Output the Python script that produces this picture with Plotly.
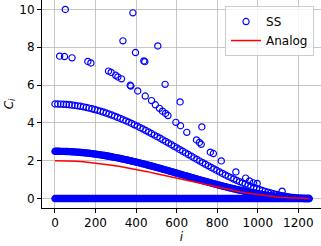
import plotly.graph_objects as go

# ---- data ----
# index positions sampled along the dense bands
i_dense = [0,7,14,21,28,35,42,49,56,63,70,77,84,91,98,105,112,119,126,133,140,147,154,161,168,175,182,189,196,203,
           210,217,224,231,238,245,252,259,266,273,280,287,294,301,308,315,322,329,336,343,350,357,364,371,378,385,392,399,406,413,
           420,427,434,441,448,455,462,469,476,483,490,497,504,511,518,525,532,539,546,553,560,567,574,581,588,595,602,609,616,623,
           630,637,644,651,658,665,672,679,686,693,700,707,714,721,728,735,742,749,756,763,770,777,784,791,798,805,812,819,826,833,
           840,847,854,861,868,875,882,889,896,903,910,917,924,931,938,945,952,959,966,973,980,987,994,1001,1008,1015,1022,1029,1036,1043,
           1050,1057,1064,1071,1078,1085,1092,1099,1106,1113,1120,1127,1134,1141,1148,1155,1162,1169,1176,1183,1190,1197,1204,1211,1218,1225,1232,1239,1246,1253]

ss_band0 = [0,0,0,0,0,0,0,0,0,0,0,0,0,0,0,0,0,0,0,0,0,0,0,0,0,0,0,0,0,0,
            0,0,0,0,0,0,0,0,0,0,0,0,0,0,0,0,0,0,0,0,0,0,0,0,0,0,0,0,0,0,
            0,0,0,0,0,0,0,0,0,0,0,0,0,0,0,0,0,0,0,0,0,0,0,0,0,0,0,0,0,0,
            0,0,0,0,0,0,0,0,0,0,0,0,0,0,0,0,0,0,0,0,0,0,0,0,0,0,0,0,0,0,
            0,0,0,0,0,0,0,0,0,0,0,0,0,0,0,0,0,0,0,0,0,0,0,0,0,0,0,0,0,0,
            0,0,0,0,0,0,0,0,0,0,0,0,0,0,0,0,0,0,0,0,0,0,0,0,0,0,0,0,0,0]

ss_band1 = [2.500,2.500,2.499,2.498,2.497,2.495,2.493,2.491,2.488,2.485,2.481,2.477,2.473,2.468,2.463,2.457,2.452,2.445,2.439,2.432,
            2.425,2.417,2.409,2.401,2.392,2.383,2.374,2.364,2.354,2.343,2.333,2.322,2.310,2.298,2.286,2.274,2.261,2.248,2.235,2.221,
            2.208,2.193,2.179,2.164,2.149,2.134,2.118,2.103,2.086,2.070,2.054,2.037,2.020,2.002,1.985,1.967,1.949,1.931,1.912,1.894,
            1.875,1.856,1.837,1.818,1.798,1.778,1.758,1.738,1.718,1.698,1.678,1.657,1.636,1.616,1.595,1.574,1.552,1.531,1.510,1.489,
            1.467,1.446,1.424,1.402,1.381,1.359,1.337,1.315,1.294,1.272,1.250,1.228,1.206,1.185,1.163,1.141,1.119,1.098,1.076,1.055,
            1.033,1.012,0.990,0.969,0.948,0.927,0.906,0.885,0.864,0.843,0.823,0.802,0.782,0.762,0.742,0.722,0.702,0.683,0.663,0.644,
            0.625,0.606,0.588,0.569,0.551,0.533,0.515,0.498,0.480,0.463,0.447,0.430,0.414,0.398,0.382,0.366,0.351,0.336,0.321,0.307,
            0.293,0.279,0.265,0.252,0.239,0.226,0.214,0.202,0.190,0.179,0.168,0.157,0.146,0.136,0.127,0.117,0.108,0.099,0.091,0.083,
            0.075,0.068,0.061,0.055,0.048,0.043,0.037,0.032,0.027,0.023,0.019,0.015,0.012,0.009,0.007,0.005,0.003,0.002,0.001,0.000]

i_band2 = i_dense[::2]
ss_band2 = [5.000,4.998,4.994,4.986,4.976,4.962,4.945,4.926,4.903,4.878,4.849,4.818,4.784,4.747,4.707,4.665,4.620,4.573,4.523,4.470,
            4.415,4.358,4.298,4.237,4.173,4.107,4.039,3.970,3.898,3.825,3.750,3.674,3.596,3.517,3.437,3.355,3.273,3.189,3.105,3.020,
            2.934,2.848,2.761,2.675,2.587,2.500,2.413,2.326,2.239,2.152,2.066,1.980,1.895,1.811,1.728,1.645,1.564,1.483,1.404,1.326,
            1.250,1.175,1.102,1.031,0.961,0.893,0.827,0.763,0.702,0.642,0.585,0.530,0.478,0.428,0.380,0.335,0.293,0.253,0.216,0.182,
            0.151,0.122,0.097,0.074,0.055,0.038,0.024,0.014,0.006,0.002]

# sparse SS points (upper levels)
i_sparse = [51,384,507,335,397,438,443,543,617,724,
            23,47,84,162,177,264,277,299,310,328,371,374,408,445,476,495,515,530,545,557,
            596,619,650,698,712,721,766,781,820,892,940,959,978,997,1120]
ss_sparse = [10.00,9.82,8.07,8.34,7.72,7.28,7.24,6.04,5.11,3.79,
             7.53,7.51,7.44,7.25,7.17,6.74,6.67,6.52,6.43,6.33,5.99,5.95,5.69,5.42,5.18,4.96,4.77,4.62,4.50,4.39,
             4.03,3.85,3.50,3.10,2.97,2.87,2.45,2.38,1.99,1.41,1.08,0.93,0.83,0.80,0.39]

i_analog = [0,35,70,105,140,175,210,245,280,315,350,385,420,455,490,525,560,595,630,665,700,735,770,805,840,875,910,945,980,1015,
            1050,1085,1120,1155,1190,1225,1253]
analog = [2.000,1.996,1.985,1.966,1.940,1.906,1.866,1.819,1.766,1.707,1.643,1.574,1.500,1.423,1.342,1.259,1.174,1.087,1.000,0.913,
          0.826,0.741,0.658,0.577,0.500,0.426,0.357,0.293,0.234,0.181,0.134,0.094,0.060,0.034,0.015,0.004,0.000]

x_ticks = [0, 200, 400, 600, 800, 1000, 1200]
y_ticks = [0, 2, 4, 6, 8, 10]

BLUE = "#0000ff"
RED = "#ff0000"
FONT = "DejaVu Sans"

fig = go.Figure()

sparse_marker = dict(symbol="circle-open", size=6.2, color=BLUE, line=dict(width=1.2, color=BLUE))
dense_marker = dict(symbol="circle-open", size=5.6, color=BLUE, line=dict(width=1.8, color=BLUE))

fig.add_trace(go.Scatter(x=i_dense, y=ss_band0, mode="markers", marker=dense_marker,
                         name="SS", showlegend=False))
fig.add_trace(go.Scatter(x=i_dense, y=ss_band1, mode="markers", marker=dense_marker,
                         name="SS", showlegend=False))
fig.add_trace(go.Scatter(x=i_band2, y=ss_band2, mode="markers", marker=sparse_marker,
                         name="SS", showlegend=False))
fig.add_trace(go.Scatter(x=i_sparse, y=ss_sparse, mode="markers", marker=sparse_marker,
                         name="SS", showlegend=True))
fig.add_trace(go.Scatter(x=i_analog, y=analog, mode="lines", line=dict(color=RED, width=1.5),
                         name="Analog"))

axis_common = dict(
    showgrid=True, gridcolor="#b8b8b8", gridwidth=0.8,
    showline=True, linecolor="black", linewidth=1,
    ticks="outside", ticklen=4, tickwidth=1, tickcolor="black",
    zeroline=False, automargin=False,
    tickfont=dict(family=FONT, size=12, color="black"),
)

fig.update_layout(
    width=321, height=246,
    margin=dict(l=42, r=0, t=0, b=38, autoexpand=False),
    paper_bgcolor="white", plot_bgcolor="white",
    font=dict(family=FONT, size=12, color="black"),
    xaxis=dict(range=[-64, 1311.7], tickvals=x_ticks,
               title=dict(text="<i>i</i>", font=dict(family=FONT, size=12), standoff=2),
               **axis_common),
    yaxis=dict(range=[-0.5, 10.5], tickvals=y_ticks,
               title=dict(text="<i>C<sub>i</sub></i>", font=dict(family=FONT, size=12), standoff=3),
               **axis_common),
    legend=dict(x=0.975, y=0.971, xanchor="right", yanchor="top",
                bgcolor="rgba(255,255,255,0.8)", bordercolor="#cccccc", borderwidth=1,
                tracegroupgap=0, itemwidth=30,
                font=dict(family=FONT, size=12, color="black")),
    showlegend=True,
    hovermode=False,
)

fig.write_html("out.html", config={"displayModeBar": False, "staticPlot": True},
               post_script="document.body.style.margin='0';document.body.style.padding='0';")
